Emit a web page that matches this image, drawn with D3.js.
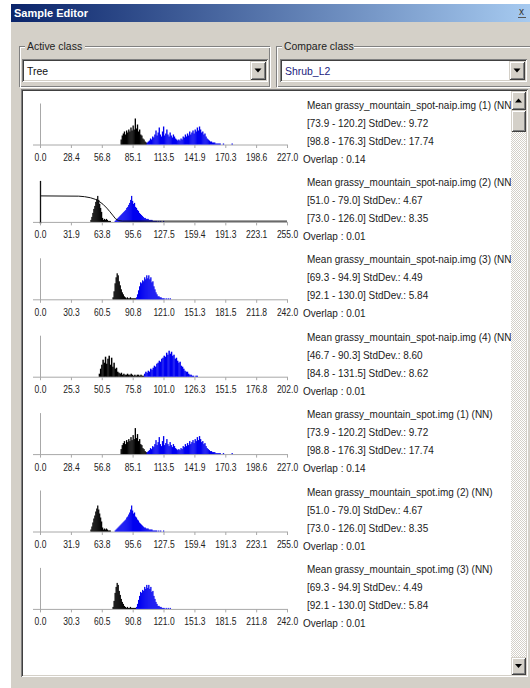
<!DOCTYPE html>
<html><head><meta charset="utf-8">
<script src="https://cdn.jsdelivr.net/npm/d3@7"></script>
<style>
html,body{margin:0;padding:0;background:#fff;}
svg{display:block;}
text{font-family:"Liberation Sans",Arial,sans-serif;}
</style></head><body>
<svg id="c" width="530" height="688"></svg>
<script>
// ---------------- DATA ----------------
const activeClass = "Tree";
const compareClass = "Shrub_L2";
const panelTitles = [
  "Mean grassy_mountain_spot-naip.img (1) (NN)",
  "Mean grassy_mountain_spot-naip.img (2) (NN)",
  "Mean grassy_mountain_spot-naip.img (3) (NN)",
  "Mean grassy_mountain_spot-naip.img (4) (NN)",
  "Mean grassy_mountain_spot.img (1) (NN)",
  "Mean grassy_mountain_spot.img (2) (NN)",
  "Mean grassy_mountain_spot.img (3) (NN)"
];
const activeStats = ["[73.9 - 120.2] StdDev.: 9.72","[51.0 - 79.0] StdDev.: 4.67","[69.3 - 94.9] StdDev.: 4.49","[46.7 - 90.3] StdDev.: 8.60","[73.9 - 120.2] StdDev.: 9.72","[51.0 - 79.0] StdDev.: 4.67","[69.3 - 94.9] StdDev.: 4.49"];
const compareStats = ["[98.8 - 176.3] StdDev.: 17.74","[73.0 - 126.0] StdDev.: 8.35","[92.1 - 130.0] StdDev.: 5.84","[84.8 - 131.5] StdDev.: 8.62","[98.8 - 176.3] StdDev.: 17.74","[73.0 - 126.0] StdDev.: 8.35","[92.1 - 130.0] StdDev.: 5.84"];
const overlaps = ["0.14","0.01","0.01","0.01","0.14","0.01","0.01"];
const tickLabels = [
  ["0.0","28.4","56.8","85.1","113.5","141.9","170.3","198.6","227.0"],
  ["0.0","31.9","63.8","95.6","127.5","159.4","191.3","223.1","255.0"],
  ["0.0","30.3","60.5","90.8","121.0","151.3","181.5","211.8","242.0"],
  ["0.0","25.3","50.5","75.8","101.0","126.3","151.5","176.8","202.0"],
  ["0.0","28.4","56.8","85.1","113.5","141.9","170.3","198.6","227.0"],
  ["0.0","31.9","63.8","95.6","127.5","159.4","191.3","223.1","255.0"],
  ["0.0","30.3","60.5","90.8","121.0","151.3","181.5","211.8","242.0"]
];
// histogram counts per integer value, starting at the given value
const activeStart = [74, 52, 71, 48];
const compareStart = [98, 77, 94, 85];
const activeHist1 = [5,9,11,13,10,14,12,15,13,17,14,19,15,26,16,20,13,15,10,9,6,5,3,2];
const compareHist1 = [2,3,4,6,5,8,7,10,14,9,12,17,10,8,13,18,9,11,15,10,8,12,9,7,10,8,6,5,4,5,4,6,5,8,7,10,8,11,9,13,10,12,14,11,15,13,17,14,18,15,12,13,10,11,8,6,5,4,3,3,2,2,2,1,1,1,1,1,0,0,1,0,0,0,0,0,0,0,1];
const activeHist2 = [2,5,9,13,16,20,23,26,22,18,14,10,4,2,3,2,3,2,1,1,1];
const compareHist2 = [1,2,3,4,5,6,7,8,9,10,11,12,14,15,17,19,22,26,21,18,19,15,14,12,11,9,8,7,6,5,4,4,3,3,3,2,2,2,2,1,1,1,1,1,0,1,0,1,0,0,1];
const activeHist3 = [2,8,16,22,26,24,18,14,10,7,5,3,2,1,2,1,1,2,1,1,1,1,1];
const compareHist3 = [2,5,9,13,17,16,19,18,22,20,24,21,24,20,22,17,18,13,10,7,5,3,3,2,2,1,1,1,0,1,0,1,0,1];
const activeHist4 = [3,8,12,17,14,20,13,18,21,12,19,10,14,8,9,5,4,3,4,2,3,2,2,3,2,2,3,2,1,2,1,2,2,1,2,1,1];
const compareHist4 = [3,5,4,6,5,8,7,9,11,10,13,14,16,15,18,19,21,20,24,22,26,23,25,21,22,18,19,16,14,15,11,10,8,6,5,5,3,2,2,1,1,0,1,1];
// cumulative-style curve drawn in band 2 of the naip image: [value, fraction of histogram peak]
const curveBand2 = [[0,1.0],[40,0.99],[46,0.97],[52,0.93],[57,0.87],[61,0.79],[65,0.68],[69,0.53],[72,0.4],[75,0.26],[78,0.12],[81,0.05],[85,0.03],[100,0.03],[255,0.03]];

const panelBand = [0,1,2,3,0,1,2];
const activeHists = [activeHist1, activeHist2, activeHist3, activeHist4];
const compareHists = [compareHist1, compareHist2, compareHist3, compareHist4];
const panelCurve = [null, curveBand2, null, null, null, null, null];

// ---------------- DRAW ----------------
const svg = d3.select("#c");
const FACE = "#D4D0C8";
const defs = svg.append("defs");
const tg = defs.append("linearGradient").attr("id","tg").attr("x1",0).attr("x2",1).attr("y1",0).attr("y2",0);
tg.append("stop").attr("offset","0%").attr("stop-color","#0A246A");
tg.append("stop").attr("offset","100%").attr("stop-color","#A6CAF0");
const pat = defs.append("pattern").attr("id","chk").attr("width",2).attr("height",2).attr("patternUnits","userSpaceOnUse");
pat.append("rect").attr("width",2).attr("height",2).attr("fill","#fff");
pat.append("rect").attr("width",1).attr("height",1).attr("fill",FACE);
pat.append("rect").attr("x",1).attr("y",1).attr("width",1).attr("height",1).attr("fill",FACE);
defs.append("clipPath").attr("id","listclip").append("rect").attr("x",23).attr("y",92).attr("width",488).attr("height",583);

svg.append("rect").attr("width",530).attr("height",688).attr("fill","#fff");
svg.append("rect").attr("x",11).attr("y",4).attr("width",519).attr("height",684).attr("fill",FACE);
svg.append("rect").attr("x",11).attr("y",4).attr("width",519).attr("height",18).attr("fill","url(#tg)");
svg.append("text").attr("x",14).attr("y",17).attr("fill","#fff").attr("font-weight","bold").attr("font-size",11).text("Sample Editor");
svg.append("text").attr("x",519).attr("y",15).attr("fill","#333").attr("font-size",10).text("x");
svg.append("line").attr("x1",518).attr("x2",526).attr("y1",17.5).attr("y2",17.5).attr("stroke","#555");

function L(g,d,col){ g.append("path").attr("d",d).attr("fill","none").attr("stroke",col).attr("shape-rendering","crispEdges"); }
function bevel(g,x,y,w,h,c){
  L(g,`M${x+.5},${y+h-.5}V${y+.5}H${x+w-.5}`, c[0]);
  L(g,`M${x+.5},${y+h-.5}H${x+w-.5}V${y+.5}`, c[1]);
  L(g,`M${x+1.5},${y+h-1.5}V${y+1.5}H${x+w-1.5}`, c[2]);
  L(g,`M${x+1.5},${y+h-1.5}H${x+w-1.5}V${y+1.5}`, c[3]);
}
const SUNK = ["#808080","#fff","#404040",FACE];
const RAISE = [FACE,"#404040","#fff","#808080"];
function arrow(g,cx,cy,down){
  const d = down ? `M${cx-3.5},${cy-2}H${cx+3.5}L${cx},${cy+2}Z` : `M${cx-3.5},${cy+2}H${cx+3.5}L${cx},${cy-2}Z`;
  g.append("path").attr("d",d).attr("fill","#000");
}
function sx(sel,x,y,s){ return sel.attr("transform",`translate(${x},${y}) scale(${s},1)`); }

// group boxes
function group(x,y,w,h,label,lw){
  const g = svg.append("g");
  g.append("rect").attr("x",x+.5).attr("y",y+.5).attr("width",w-1).attr("height",h-1).attr("fill","none").attr("stroke","#808080").attr("shape-rendering","crispEdges");
  g.append("rect").attr("x",x+1.5).attr("y",y+1.5).attr("width",w-1).attr("height",h-1).attr("fill","none").attr("stroke","#fff").attr("shape-rendering","crispEdges");
  g.append("rect").attr("x",x+6).attr("y",y-6).attr("width",lw).attr("height",12).attr("fill",FACE);
  sx(g.append("text").attr("font-size",11).attr("fill","#222").text(label), x+8, y+4, 0.95);
}
group(19,46,251,41,"Active class",60);
group(276,46,260,41,"Compare class",72);

function combo(x,y,w,h,txt,col){
  const g = svg.append("g");
  g.append("rect").attr("x",x).attr("y",y).attr("width",w).attr("height",h).attr("fill","#fff");
  bevel(g,x,y,w,h,SUNK);
  sx(g.append("text").attr("font-size",11).attr("fill",col).text(txt), x+5, y+h/2+4, 0.95);
  const bx = x+w-18, by = y+2, bw = 16, bh = h-4;
  g.append("rect").attr("x",bx).attr("y",by).attr("width",bw).attr("height",bh).attr("fill",FACE);
  bevel(g,bx,by,bw,bh,RAISE);
  arrow(g,bx+bw/2,by+bh/2,true);
}
combo(22,59,246,23,activeClass,"#111");
combo(280,59,247,23,compareClass,"#1a1a80");

// list box
const lg = svg.append("g");
lg.append("rect").attr("x",21).attr("y",89).attr("width",507).attr("height",588).attr("fill","#fff");
bevel(lg,21,89,507,588,SUNK);
// scrollbar
lg.append("rect").attr("x",511).attr("y",91).attr("width",15).attr("height",584).attr("fill","url(#chk)");
[[91,19,"up"],[110,22,null],[657,18,"down"]].forEach(([y,h,a])=>{
  lg.append("rect").attr("x",511).attr("y",y).attr("width",15).attr("height",h).attr("fill",FACE);
  bevel(lg,511,y,15,h,RAISE);
  if(a) arrow(lg,518.5,y+h/2,a==="down");
});

// panels
const content = svg.append("g").attr("clip-path","url(#listclip)");
const M0 = 108.5, P = 77.4;
const X0 = 40, X1 = 287;
panelTitles.forEach((title,i)=>{
  const M = M0 + P*i;
  const base = M + 36;
  const b = panelBand[i];
  const ticks = tickLabels[i].map(Number);
  const vmax = ticks[ticks.length-1];
  const x = d3.scaleLinear().domain([0,vmax]).range([X0,X1]);
  const aH = activeHists[b], cH = compareHists[b];
  const ymax = Math.max(d3.max(aH), d3.max(cH));
  const y = d3.scaleLinear().domain([0,ymax]).range([base, base-26]);
  const g = content.append("g");
  // baseline + y axis
  g.append("line").attr("x1",X0-7).attr("x2",X1+1).attr("y1",base+.5).attr("y2",base+.5).attr("stroke","#a8a8a8");
  g.append("line").attr("x1",X0+.5).attr("x2",X0+.5).attr("y1",M-5).attr("y2",base+2).attr("stroke", i===1 ? "#111" : "#a8a8a8").attr("stroke-width", i===1?1.3:1);
  const ax = g.append("g").attr("transform",`translate(0,${base+.5})`)
    .call(d3.axisBottom(x).tickValues(ticks).tickFormat((d,k)=>tickLabels[i][k]).tickSize(3).tickSizeOuter(0));
  ax.select(".domain").remove();
  ax.selectAll(".tick line").attr("stroke","#a8a8a8");
  ax.selectAll(".tick text").attr("y",16).attr("dy",null).attr("font-size",10)
    .attr("font-family","'Liberation Sans',Arial,sans-serif").attr("fill","#222").attr("transform","scale(0.85,1)");
  // histograms
  const bars = (arr,start,col)=>{
    g.append("g").selectAll("rect").data(arr).join("rect")
      .attr("x",(d,k)=>x(start+k)).attr("width",(d,k)=>x(start+k+1)-x(start+k)+0.25)
      .attr("y",d=>y(d)).attr("height",d=>base-y(d)).attr("fill",col);
  };
  bars(aH, activeStart[b], "#000");
  bars(cH, compareStart[b], "#0000f0");
  if(panelCurve[i]){
    const line = d3.line().x(d=>x(d[0])).y(d=>y(d[1]*ymax));
    g.append("path").attr("d",line(panelCurve[i])).attr("fill","none").attr("stroke","#111").attr("stroke-width",1);
  }
  // info text
  const t = (s,xx,yy)=>sx(g.append("text").attr("font-size",10.5).attr("fill","#1a1a1a").text(s), xx, yy, 0.95);
  t(title, 307, M);
  t(activeStats[i], 307, M+18);
  t(compareStats[i], 307, M+36);
  t("Overlap : " + overlaps[i], 303, M+54);
});
</script></body></html>
